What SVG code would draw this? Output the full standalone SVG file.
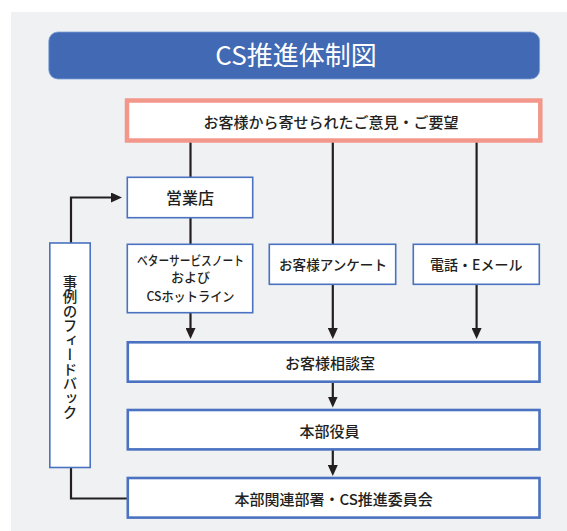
<svg xmlns="http://www.w3.org/2000/svg" width="567" height="531" viewBox="0 0 567 531">
<defs>
<style>
text{font-family:"Noto Sans CJK JP","Noto Sans",sans-serif;fill:#231f20;text-anchor:middle;font-weight:500}
.sm{fill:#fff;stroke:#4a72c0;stroke-width:1.6}
.lg{fill:#fff;stroke:#4a72c0;stroke-width:2.6}
.ln{fill:none;stroke:#231f20;stroke-width:2.2}
.t15{font-size:15px}
.t14{font-size:14px}
.t13{font-size:13px}
</style>
<marker id="ah" markerUnits="userSpaceOnUse" markerWidth="11" markerHeight="10" refX="8" refY="5" orient="auto">
<path d="M0,0 L11,5 L0,10 z" fill="#231f20"/>
</marker>
</defs>
<rect x="0" y="0" width="567" height="531" fill="#fff"/>
<rect x="11" y="12" width="556" height="519" fill="#eff1f3"/>
<g id="title">
<rect x="48.8" y="32" width="490.8" height="47" rx="9" fill="#4169b4" stroke="#7f9fd6" stroke-width="0.8"/>
<text x="296" y="65" style="font-size:26px;fill:#fff;font-weight:400">CS推進体制図</text>
</g>
<g id="connectors">
<line class="ln" x1="190.5" y1="142" x2="190.5" y2="177.5"/>
<line class="ln" x1="190.5" y1="217.5" x2="190.5" y2="244.5"/>
<line class="ln" x1="332.8" y1="142" x2="332.8" y2="244.5"/>
<line class="ln" x1="476.6" y1="142" x2="476.6" y2="244.5"/>
<line class="ln" x1="190.5" y1="312.5" x2="190.5" y2="336" marker-end="url(#ah)"/>
<line class="ln" x1="332.8" y1="284.5" x2="332.8" y2="336" marker-end="url(#ah)"/>
<line class="ln" x1="476.6" y1="284.5" x2="476.6" y2="336" marker-end="url(#ah)"/>
<line class="ln" x1="332.8" y1="382" x2="332.8" y2="404.5" marker-end="url(#ah)"/>
<line class="ln" x1="332.8" y1="450" x2="332.8" y2="473" marker-end="url(#ah)"/>
<polyline class="ln" points="71,243 71,197.5 119,197.5" marker-end="url(#ah)"/>
<polyline class="ln" points="71,467.5 71,498.5 127,498.5"/>
</g>
<g id="voices">
<rect x="127" y="100.5" width="413.3" height="40" fill="#fff" stroke="#f4978b" stroke-width="4.5"/>
<text class="t15" x="331" y="128">お客様から寄せられたご意見・ご要望</text>
</g>
<g id="shop">
<rect class="sm" x="127.3" y="177.3" width="125.4" height="40.4"/>
<text x="190" y="203.5" style="font-size:16px">営業店</text>
</g>
<g id="note">
<rect class="sm" x="127.3" y="244.3" width="125.4" height="68.4"/>
<text class="t13" x="190.5" y="264.5" textLength="107" lengthAdjust="spacingAndGlyphs">ベターサービスノート</text>
<text class="t13" x="190.5" y="282">および</text>
<text class="t13" x="190.5" y="301.3" textLength="88" lengthAdjust="spacingAndGlyphs">CSホットライン</text>
</g>
<g id="survey">
<rect class="sm" x="269.3" y="244.3" width="126.4" height="40"/>
<text class="t14" x="333" y="269.8" textLength="108" lengthAdjust="spacingAndGlyphs">お客様アンケート</text>
</g>
<g id="phone">
<rect class="sm" x="413.3" y="244.3" width="126" height="40"/>
<text class="t14" x="476.3" y="269.8">電話・Eメール</text>
</g>
<g id="center">
<rect class="lg" x="127.8" y="342.3" width="411.7" height="39.4"/>
<text class="t15" x="330" y="368.5">お客様相談室</text>
</g>
<g id="exec">
<rect class="lg" x="127.8" y="410" width="411.7" height="39.4"/>
<text class="t15" x="329.5" y="437">本部役員</text>
</g>
<g id="committee">
<rect class="lg" x="127.8" y="478" width="411.7" height="39.6"/>
<text class="t15" x="333.6" y="505.2">本部関連部署・CS推進委員会</text>
</g>
<g id="feedback">
<rect class="sm" x="49.8" y="243" width="40.4" height="224.5"/>
<text x="70" y="347.5" style="font-size:14.5px;writing-mode:vertical-rl">事例のフィードバック</text>
</g>
</svg>
